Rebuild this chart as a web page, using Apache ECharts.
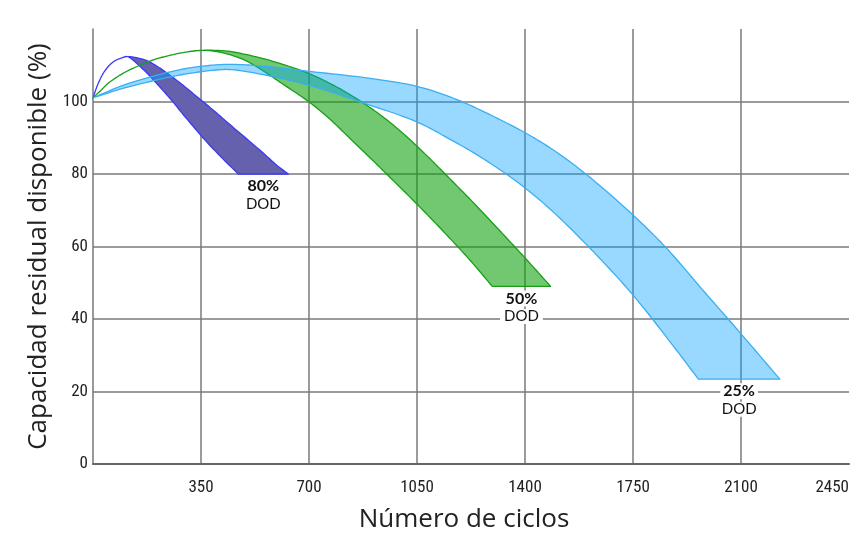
<!DOCTYPE html>
<html><head><meta charset="utf-8">
<script src="https://cdn.jsdelivr.net/npm/echarts@6/dist/echarts.min.js"></script>
<style>html,body{margin:0;padding:0;background:#fff}#c{width:864px;height:536px}</style>
</head><body><div id="c"></div>
<script>
// Band edges: [cycles, capacity %]
const purpleUpper = [[0,101],[16,104.8],[38,108.4],[65,110.9],[92,112],[111,112.4],[140,112.1],[174,111.3],[210,109.6],[250,107.2],[290,104.6],[340,101.1],[390,97.6],[440,93.9],[498,89.7],[550,85.9],[600,82.1],[633,80]];
const purpleLower = [[0,101],[16,104.8],[38,108.4],[65,110.9],[92,112],[111,112.4],[130,111.4],[152,109.7],[180,107.4],[206,105],[250,100.8],[304,95.2],[369,88.8],[422,84.1],[471,80]];
const greenUpper = [[0,101],[27,103.2],[49,105],[92,107.5],[146,109.8],[200,111.6],[286,113.4],[351,114.1],[400,114.1],[444,113.8],[530,112.3],[617,110.2],[703,107.6],[790,104.0],[850,101.0],[900,98.2],[953,94.9],[1018,90.2],[1085,84.8],[1147,79.5],[1236,71.8],[1320,64.2],[1407,56.2],[1483,49]];
const greenLower = [[0,101],[27,103.2],[49,105],[92,107.5],[146,109.8],[200,111.6],[286,113.4],[351,114.1],[390,113.9],[422,113.4],[487,111.6],[552,108.4],[617,104.7],[703,99.7],[768,95.1],[833,89.8],[900,84.3],[962,79.1],[1051,71.6],[1135,64.2],[1222,56.2],[1294,49]];
const blueUpper = [[0,101],[92,104.3],[200,107.1],[308,109.2],[416,110.2],[470,110.2],[560,109.7],[703,108.3],[887,106.5],[1049,104.2],[1168,100.9],[1254,97.7],[1402,91.3],[1492,86.6],[1600,79.8],[1751,68.6],[1859,59.5],[1972,48.4],[2091,36.8],[2226,23.4]];
const blueLower = [[0,101],[92,103.5],[200,105.8],[308,107.7],[416,108.8],[460,108.7],[563,107.2],[703,104.4],[887,99.3],[1049,94.4],[1150,89.9],[1254,84.8],[1362,78.6],[1470,71.2],[1611,59.5],[1751,46.5],[1881,32.5],[1962,23.4]];
const bandLabels = ['80%','50%','25%'];
const bandSub = 'DOD';
const xName = 'Número de ciclos';
const yName = 'Capacidad residual disponible (%)';

const bands = [
  {upper: purpleUpper, lower: purpleLower, label: bandLabels[0], fill:'#6561ad', stroke:'#3a3af5'},
  {upper: greenUpper, lower: greenLower, label: bandLabels[1], fill:'rgba(10,160,10,0.58)', stroke:'#17a017'},
  {upper: blueUpper, lower: blueLower, label: bandLabels[2], fill:'rgba(0,160,255,0.4)', stroke:'#3aaef2'}
];

// centripetal Catmull-Rom through pixel points (drawing only)
function smoothPx(pts, seg){
  if (pts.length < 3) return pts.slice();
  const out = [pts[0]];
  const dist = (a,b) => Math.max(Math.pow(Math.hypot(b[0]-a[0], b[1]-a[1]), 0.5), 1e-3);
  for (let i = 0; i < pts.length - 1; i++){
    const p1 = pts[i], p2 = pts[i+1];
    const p0 = i > 0 ? pts[i-1] : [2*p1[0]-p2[0], 2*p1[1]-p2[1]];
    const p3 = i + 2 < pts.length ? pts[i+2] : [2*p2[0]-p1[0], 2*p2[1]-p1[1]];
    if (Math.hypot(p2[0]-p1[0], p2[1]-p1[1]) < 1e-6) continue;
    const t0 = 0, t1 = t0 + dist(p0,p1), t2 = t1 + dist(p1,p2), t3 = t2 + dist(p2,p3);
    const mix = (a,b,wa,wb) => [a[0]*wa + b[0]*wb, a[1]*wa + b[1]*wb];
    for (let k = 1; k <= seg; k++){
      const t = t1 + (t2 - t1) * k / seg;
      const A1 = mix(p0,p1,(t1-t)/(t1-t0),(t-t0)/(t1-t0));
      const A2 = mix(p1,p2,(t2-t)/(t2-t1),(t-t1)/(t2-t1));
      const A3 = mix(p2,p3,(t3-t)/(t3-t2),(t-t2)/(t3-t2));
      const B1 = mix(A1,A2,(t2-t)/(t2-t0),(t-t0)/(t2-t0));
      const B2 = mix(A2,A3,(t3-t)/(t3-t1),(t-t1)/(t3-t1));
      out.push(mix(B1,B2,(t2-t)/(t2-t1),(t-t1)/(t2-t1)));
    }
  }
  return out;
}

function bandSeries(b){
  const ll = b.lower[b.lower.length-1];
  return {
    type:'custom', coordinateSystem:'cartesian2d', silent:true, clip:false,
    data:[[ll[0], ll[1]]],
    encode:{x:0, y:1},
    renderItem:function(params, api){
      const up = smoothPx(b.upper.map(p => api.coord(p)), 10);
      const lo = smoothPx(b.lower.map(p => api.coord(p)), 10);
      const pts = up.concat(lo.reverse());
      const ul = b.upper[b.upper.length-1];
      const a = api.coord([(ul[0]+ll[0])/2, ll[1]]);
      return {type:'group', children:[
        {type:'polygon', shape:{points:pts}, style:{fill:b.fill, stroke:b.stroke, lineWidth:1.3, lineJoin:'round'}},
        {type:'text', x:a[0], y:a[1]+30, style:{text:bandSub, fill:'#111', font:'400 15px Lato, "Open Sans", sans-serif', align:'center', verticalAlign:'middle', backgroundColor:'#fff', padding:[0,4,0,4]}},
        {type:'text', x:a[0], y:a[1]+12, style:{text:b.label, fill:'#111', font:'700 16px Lato, "Open Sans", sans-serif', align:'center', verticalAlign:'middle', backgroundColor:'#fff', padding:[0,3,0,3]}}
      ]};
    }
  };
}

const tickFont = '"Liberation Sans Narrow", "Roboto Condensed", Roboto, sans-serif';
const chart = echarts.init(document.getElementById('c'), null, {renderer:'canvas'});
chart.setOption({
  animation:false,
  backgroundColor:'#fff',
  grid:{left:93, right:15, top:29, bottom:72, containLabel:false, outerBoundsMode:'none'},
  xAxis:{
    type:'value', min:0, max:2450, interval:350,
    name:xName, nameLocation:'middle', nameGap:43,
    nameTextStyle:{fontFamily:'"Open Sans", sans-serif', fontSize:26, color:'#222', padding:[0,14,0,0]},
    axisLine:{show:true, lineStyle:{color:'#666', width:2}},
    axisTick:{show:false},
    axisLabel:{fontFamily:tickFont, fontSize:17, color:'#222', margin:15, alignMaxLabel:'right',
      formatter:v => v === 0 ? '' : String(v)},
    splitLine:{show:true, showMinLine:false, showMaxLine:false, lineStyle:{color:'#7a7a7a', width:1.5}}
  },
  yAxis:{
    type:'value', min:0, max:120, interval:20,
    name:yName, nameLocation:'middle', nameGap:41, nameRotate:90,
    nameTextStyle:{fontFamily:'"Open Sans", sans-serif', fontSize:26, color:'#222'},
    axisLine:{show:true, lineStyle:{color:'#777', width:1.5}},
    axisTick:{show:false},
    axisLabel:{fontFamily:tickFont, fontSize:17, color:'#222', margin:5,
      formatter:v => v === 120 ? '' : String(v)},
    splitLine:{show:true, showMinLine:false, showMaxLine:false, lineStyle:{color:'#7a7a7a', width:1.5}}
  },
  series: bands.map(bandSeries)
});
</script></body></html>
